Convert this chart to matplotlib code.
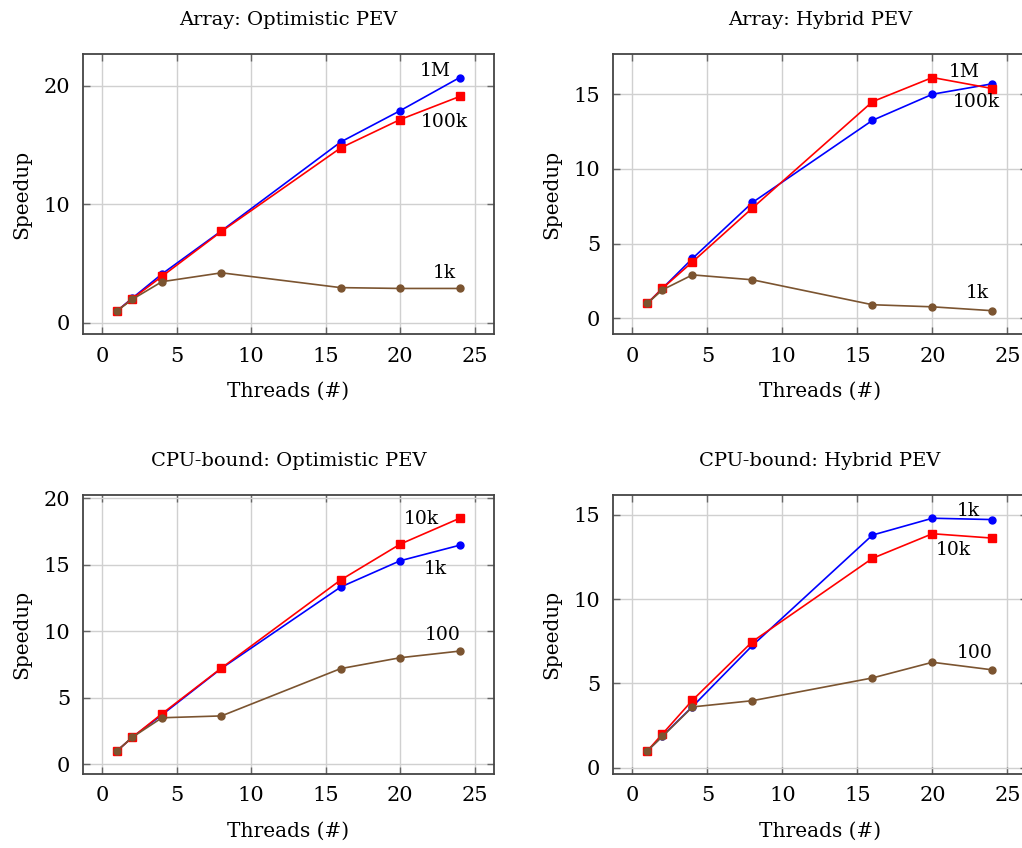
import numpy as np
import matplotlib
matplotlib.use("Agg")
import matplotlib.pyplot as plt

# threads on x axis
threads = [1, 2, 4, 8, 16, 20, 24]

# Array: Optimistic PEV
arr_opt_1M = [1.0, 2.05, 4.1, 7.75, 15.25, 17.9, 20.7]
arr_opt_100k = [1.0, 2.0, 3.9, 7.7, 14.75, 17.15, 19.1]
arr_opt_1k = [1.0, 1.95, 3.45, 4.2, 2.95, 2.88, 2.88]

# Array: Hybrid PEV
arr_hyb_1M = [1.0, 2.0, 4.0, 7.75, 13.25, 15.0, 15.7]
arr_hyb_100k = [1.0, 2.0, 3.77, 7.38, 14.5, 16.12, 15.38]
arr_hyb_1k = [1.0, 1.9, 2.9, 2.57, 0.9, 0.76, 0.5]

# CPU-bound: Optimistic PEV
cpu_opt_10k = [1.0, 2.0, 3.78, 7.23, 13.85, 16.55, 18.5]
cpu_opt_1k = [1.0, 2.0, 3.7, 7.2, 13.32, 15.3, 16.47]
cpu_opt_100 = [1.0, 2.0, 3.48, 3.62, 7.18, 8.0, 8.5]

# CPU-bound: Hybrid PEV
cpu_hyb_1k = [1.0, 1.88, 3.62, 7.25, 13.8, 14.8, 14.72]
cpu_hyb_10k = [1.0, 2.0, 4.0, 7.48, 12.42, 13.88, 13.62]
cpu_hyb_100 = [1.0, 1.85, 3.6, 3.97, 5.32, 6.25, 5.8]

BLUE = "#0000ff"
RED = "#ff0000"
BROWN = "#7b5430"

plt.rcParams["font.family"] = ["DejaVu Serif"]

fig = plt.figure(figsize=(10.22, 8.48), dpi=100)

pos = [
    [0.0812, 0.6061, 0.4022, 0.330],
    [0.5998, 0.6061, 0.4050, 0.330],
    [0.0812, 0.0873, 0.4022, 0.329],
    [0.5998, 0.0873, 0.4050, 0.329],
]

panels = [
    ("Array: Optimistic PEV",
     [(arr_opt_1M, BLUE, "o"), (arr_opt_100k, RED, "s"), (arr_opt_1k, BROWN, "o")],
     [("1M", 22.33, 21.23), ("100k", 22.93, 16.97), ("1k", 22.93, 4.16)],
     [0, 10, 20]),
    ("Array: Hybrid PEV",
     [(arr_hyb_1M, BLUE, "o"), (arr_hyb_100k, RED, "s"), (arr_hyb_1k, BROWN, "o")],
     [("1M", 22.15, 16.46), ("100k", 22.95, 14.47), ("1k", 22.97, 1.69)],
     [0, 5, 10, 15]),
    ("CPU-bound: Optimistic PEV",
     [(cpu_opt_1k, BLUE, "o"), (cpu_opt_10k, RED, "s"), (cpu_opt_100, BROWN, "o")],
     [("10k", 21.45, 18.46), ("1k", 22.39, 14.69), ("100", 22.86, 9.72)],
     [0, 5, 10, 15, 20]),
    ("CPU-bound: Hybrid PEV",
     [(cpu_hyb_1k, BLUE, "o"), (cpu_hyb_10k, RED, "s"), (cpu_hyb_100, BROWN, "o")],
     [("1k", 22.39, 15.2), ("10k", 21.42, 12.93), ("100", 22.85, 6.8)],
     [0, 5, 10, 15]),
]

for p, (title, series, labels, yticks) in zip(pos, panels):
    ax = fig.add_axes(p)
    for ys, c, m in series:
        ax.plot(threads, ys, color=c, marker=m, lw=1.2,
                ms=5.5 if m == "s" else 5, mec=c, mfc=c, zorder=3)
    for txt, tx, ty in labels:
        ax.text(tx, ty, txt, fontsize=13.5, ha="center", va="center", zorder=4)
    ax.margins(x=0.1, y=0.1)
    ax.set_xticks([0, 5, 10, 15, 20, 25])
    ax.set_yticks(yticks)
    ax.grid(True, color="#d0d0d0", lw=1.0)
    ax.set_axisbelow(True)
    ax.tick_params(direction="in", length=5, width=1.0, color="#666666",
                   top=True, right=True, labelsize=15, pad=9)
    for s in ax.spines.values():
        s.set_color("#444444")
        s.set_linewidth(1.3)
    ax.set_title(title, fontsize=14, pad=21)
    ax.set_xlabel("Threads (#)", fontsize=14.5, labelpad=12)
    ax.set_ylabel("Speedup", fontsize=14.5, labelpad=9)

fig.savefig("out.png", dpi=100)
